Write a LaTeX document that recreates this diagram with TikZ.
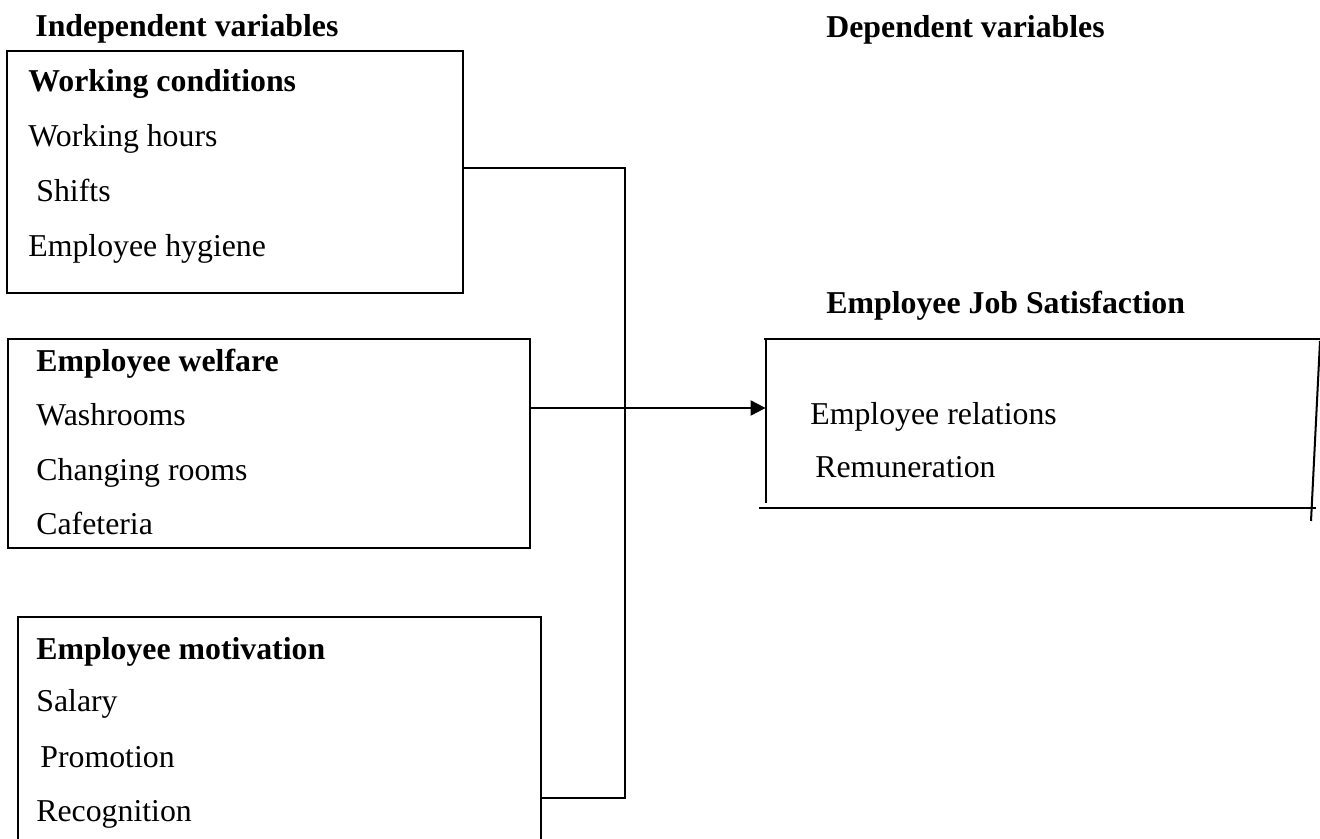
\documentclass[tikz,border=0pt]{standalone}
\usepackage{fontspec}
\setmainfont{Liberation Serif}
\usetikzlibrary{arrows.meta,fit}
\tikzset{
  box/.style={draw, line width=1pt, inner sep=0pt},
  txt/.style={anchor=base west, inner sep=0pt, font=\fontsize{15.9pt}{19pt}\selectfont},
  head/.style={txt, font=\fontsize{15.9pt}{19pt}\selectfont\bfseries},
  link/.style={line width=1pt}
}
\begin{document}
\begin{tikzpicture}[x=0.5pt,y=-0.5pt]
      \useasboundingbox (0,0) rectangle (1320,839);
      \clip (0,0) rectangle (1320,839);
      \node[head] (indep) at (35,37) {Independent variables};
      \node[head] (dep) at (826,38) {Dependent variables};

      \node[box, fit={(7,51) (463,293)}] (wc) {};
      \node[head] (wc0) at (28,92) {Working conditions};
      \node[txt] (wc1) at (28,147) {Working hours};
      \node[txt] (wc2) at (36,202) {Shifts};
      \node[txt] (wc3) at (28,257) {Employee hygiene};

      \node[box, fit={(8,339) (530,548)}] (ew) {};
      \node[head] (ew0) at (36,371) {Employee welfare};
      \node[txt] (ew1) at (36,425) {Washrooms};
      \node[txt] (ew2) at (36,480) {Changing rooms};
      \node[txt] (ew3) at (36,534) {Cafeteria};

      \node[box, fit={(18,617) (541,979)}] (em) {};
      \node[head] (em0) at (36,659) {Employee motivation};
      \node[txt] (em1) at (36,711) {Salary};
      \node[txt] (em2) at (40,767) {Promotion};
      \node[txt] (em3) at (36,821) {Recognition};

      \node[head] (ejs) at (826,314) {Employee Job Satisfaction};
      \node[inner sep=0pt, fit={(766,339) (1316,508)}] (js) {};
      \draw[link] (764,339) -- (1320,339);
      \draw[link] (766,339) -- (766,503);
      \draw[link] (759,508) -- (1316,508);
      \draw[link] (1320,341) -- (1311,521);
      \node[txt] (js1) at (810,424) {Employee relations};
      \node[txt] (js2) at (815,477) {Remuneration};

      \coordinate (jtop) at (625,168);
      \coordinate (jmid) at (625,408);
      \coordinate (jbot) at (625,798);
      \draw[link] (wc.east |- jtop) -- (jtop) -- (jbot) -- (em.east |- jbot);
      \draw[link, -{Triangle[length=7.5pt,width=7.5pt]}] (ew.east |- jmid) -- (js.west |- jmid);
\end{tikzpicture}
\end{document}
